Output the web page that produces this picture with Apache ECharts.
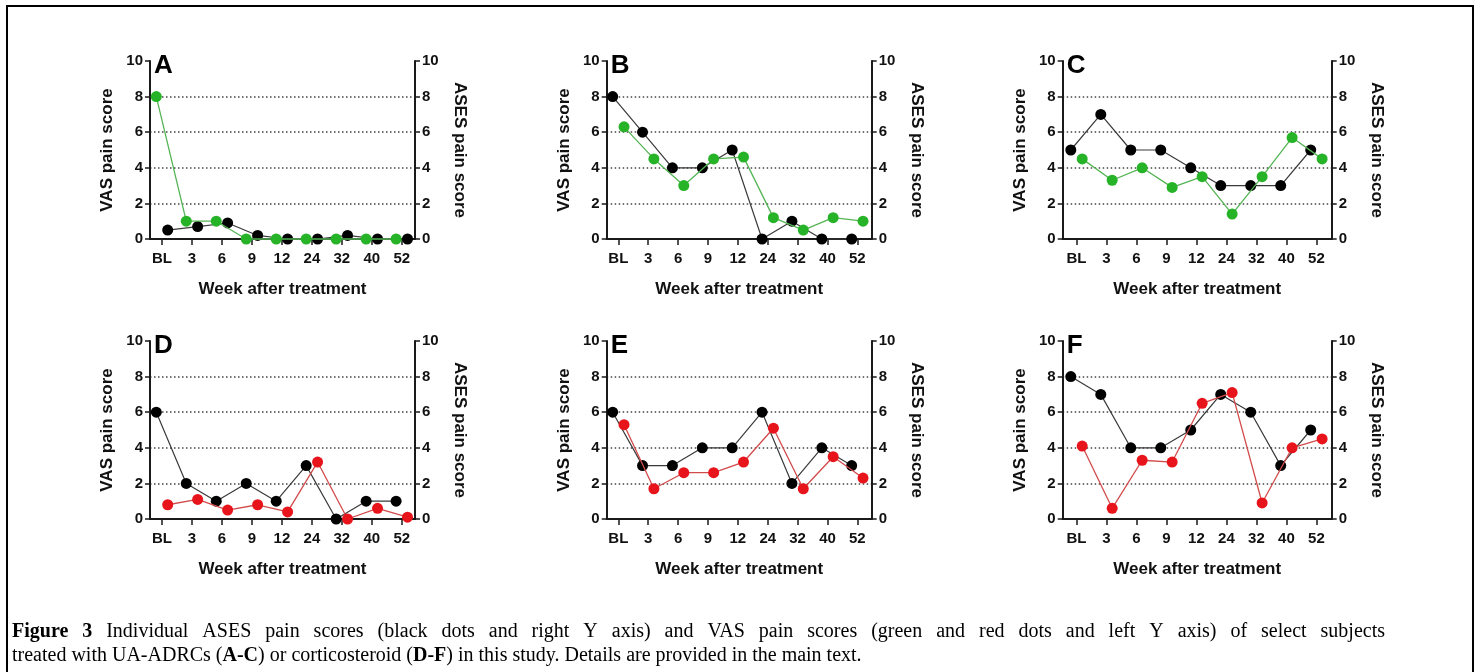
<!DOCTYPE html>
<html>
<head>
<meta charset="utf-8">
<script src="https://cdn.jsdelivr.net/npm/echarts@6/dist/echarts.min.js"></script>
<style>
html,body{margin:0;padding:0;background:#fff;}
#chart{width:1480px;height:672px;}
</style>
</head>
<body>
<div id="chart"></div>
<script>
// ---------- DATA ----------
const categories = ['BL', '3', '6', '9', '12', '24', '32', '40', '52'];
const panelLetters = ['A', 'B', 'C', 'D', 'E', 'F'];
const leftAxisName = 'VAS pain score';
const rightAxisName = 'ASES pain score';
const xAxisName = 'Week after treatment';

// ASES pain score (black dots, right axis)
const asesA = [0.5, 0.7, 0.9, 0.2, 0, 0, 0.2, 0, 0];
const asesB = [8, 6, 4, 4, 5, 0, 1, 0, 0];
const asesC = [5, 7, 5, 5, 4, 3, 3, 3, 5];
const asesD = [6, 2, 1, 2, 1, 3, 0, 1, 1];
const asesE = [6, 3, 3, 4, 4, 6, 2, 4, 3];
const asesF = [8, 7, 4, 4, 5, 7, 6, 3, 5];

// VAS pain score (green / red dots, left axis)
const vasA = [8, 1, 1, 0, 0, 0, 0, 0, 0];
const vasB = [6.3, 4.5, 3, 4.5, 4.6, 1.2, 0.5, 1.2, 1.0];
const vasC = [4.5, 3.3, 4.0, 2.9, 3.5, 1.4, 3.5, 5.7, 4.5];
const vasD = [0.8, 1.1, 0.5, 0.8, 0.4, 3.2, 0, 0.6, 0.1];
const vasE = [5.3, 1.7, 2.6, 2.6, 3.2, 5.1, 1.7, 3.5, 2.3];
const vasF = [4.1, 0.6, 3.3, 3.2, 6.5, 7.1, 0.9, 4.0, 4.5];

const captionBold1 = 'Figure 3';
const captionLine1 = 'Individual ASES pain scores (black dots and right Y axis) and VAS pain scores (green and red dots and left Y axis) of select subjects';
const captionLine2 = 'treated with UA-ADRCs ({b|A-C}) or corticosteroid ({b|D-F}) in this study. Details are provided in the main text.';

// ---------- LAYOUT / STYLE ----------
const ases = [asesA, asesB, asesC, asesD, asesE, asesF];
const vas = [vasA, vasB, vasC, vasD, vasE, vasF];
const vasColors = ['green', 'green', 'green', 'red', 'red', 'red'];
const colorStyle = {
  green: {dot: '#27b327', line: '#55b455'},
  red: {dot: '#e8141c', line: '#d24b4b'}
};
// grid boxes: [left, right(px), xmin, xmax]
const cols = [[150, 415, -0.40, 8.44], [606.7, 871.7, -0.39, 8.48], [1062.7, 1331.7, -0.46, 8.51]];
const rows = [[61, 239], [341, 519]];
// black/colored dot offsets (in category units)
const offsets = [[0.19, -0.19], [-0.19, 0.19], [-0.19, 0.19], [-0.19, 0.19], [-0.19, 0.19], [-0.19, 0.19]];

const FONT = '"Liberation Sans", Arial, sans-serif';
const SERIF = '"Liberation Serif", "Times New Roman", serif';
const axisColor = '#1a1a1a';

const grid = [], xAxis = [], yAxis = [], series = [], graphic = [];

for (let p = 0; p < 6; p++) {
  const c = cols[p % 3], r = rows[Math.floor(p / 3)];
  grid.push({left: c[0], width: c[1] - c[0], top: r[0], height: r[1] - r[0], containLabel: false});
  xAxis.push({
    type: 'value', gridIndex: p, min: c[2], max: c[3],
    name: xAxisName, nameLocation: 'middle', nameGap: 42,
    nameTextStyle: {fontFamily: FONT, fontWeight: 'bold', fontSize: 17, color: '#111'},
    axisLine: {show: true, lineStyle: {color: axisColor, width: 2}},
    axisTick: {show: true, length: 6, lineStyle: {color: axisColor, width: 1.5}, customValues: categories.map((_, i) => i)},
    axisLabel: {
      margin: 12, fontFamily: FONT, fontWeight: 'bold', fontSize: 15, color: '#111',
      customValues: categories.map((_, i) => i),
      formatter: v => categories[Math.round(v)]
    },
    splitLine: {show: false}
  });
  yAxis.push({
    type: 'value', gridIndex: p, min: 0, max: 10, interval: 2, position: 'left',
    name: leftAxisName, nameLocation: 'middle', nameGap: 34, nameRotate: 90,
    nameTextStyle: {fontFamily: FONT, fontWeight: 'bold', fontSize: 17, color: '#111'},
    axisLine: {show: true, onZero: false, lineStyle: {color: axisColor, width: 2}},
    axisTick: {show: true, length: 5, lineStyle: {color: axisColor, width: 1.5}},
    axisLabel: {margin: 7, fontFamily: FONT, fontWeight: 'bold', fontSize: 15, color: '#111'},
    splitLine: {show: true, showMinLine: false, showMaxLine: false, lineStyle: {color: '#444', width: 1.5, type: [1.5, 2.5]}}
  });
  yAxis.push({
    type: 'value', gridIndex: p, min: 0, max: 10, interval: 2, position: 'right',
    name: rightAxisName, nameLocation: 'middle', nameGap: 36, nameRotate: -90,
    nameTextStyle: {fontFamily: FONT, fontWeight: 'bold', fontSize: 17, color: '#111'},
    axisLine: {show: true, onZero: false, lineStyle: {color: axisColor, width: 2}},
    axisTick: {show: true, length: 5, lineStyle: {color: axisColor, width: 1.5}},
    axisLabel: {margin: 7, fontFamily: FONT, fontWeight: 'bold', fontSize: 15, color: '#111'},
    splitLine: {show: false}
  });
  const cs = colorStyle[vasColors[p]];
  series.push({
    type: 'line', xAxisIndex: p, yAxisIndex: 2 * p + 1, clip: false,
    data: ases[p].map((v, i) => [i + offsets[p][0], v]),
    symbol: 'circle', symbolSize: 11, z: 3,
    itemStyle: {color: '#000'},
    lineStyle: {color: '#3a3a3a', width: 1.2}
  });
  series.push({
    type: 'line', xAxisIndex: p, yAxisIndex: 2 * p, clip: false,
    data: vas[p].map((v, i) => [i + offsets[p][1], v]),
    symbol: 'circle', symbolSize: 11, z: 4,
    itemStyle: {color: cs.dot},
    lineStyle: {color: cs.line, width: 1.3}
  });
  graphic.push({
    type: 'text', left: c[0] + 4, top: r[0] - 8,
    style: {text: panelLetters[p], font: 'bold 26px ' + FONT, fill: '#000'}
  });
}

// caption: line 1 justified between x=12 and x=1385
const capFont = '20px ' + SERIF, capBold = 'bold 20px ' + SERIF;
const ctx = document.createElement('canvas').getContext('2d');
const words = captionBold1.split(' ').map(w => ({t: w, f: capBold}))
  .concat(captionLine1.split(' ').map(w => ({t: w, f: capFont})));
words.forEach(w => { ctx.font = w.f; w.w = ctx.measureText(w.t).width; });
const capX0 = 12, capX1 = 1385;
const sumW = words.reduce((s, w) => s + w.w, 0);
const gap = (capX1 - capX0 - sumW) / (words.length - 1);
let cx = capX0;
words.forEach(w => {
  graphic.push({type: 'text', x: cx, y: 622, style: {text: w.t, font: w.f, fill: '#000'}});
  cx += w.w + gap;
});
graphic.push({
  type: 'text', x: 12, y: 646,
  style: {text: captionLine2, font: capFont, fill: '#000',
    rich: {b: {fontWeight: 'bold', fontSize: 20, fontFamily: SERIF}}}
});
// frame
graphic.push({
  type: 'rect', shape: {x: 7, y: 6, width: 1466, height: 720},
  style: {fill: 'none', stroke: '#000', lineWidth: 2}
});

const chart = echarts.init(document.getElementById('chart'), null, {renderer: 'canvas'});
chart.setOption({animation: false, backgroundColor: '#fff', grid, xAxis, yAxis, series, graphic});
</script>
</body>
</html>
